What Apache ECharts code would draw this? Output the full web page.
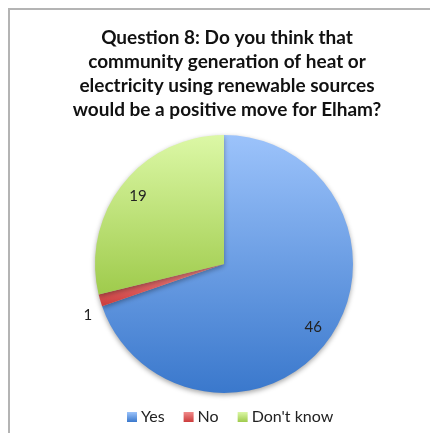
<!DOCTYPE html>
<html>
<head>
<meta charset="utf-8">
<script src="https://cdn.jsdelivr.net/npm/echarts@6/dist/echarts.min.js"></script>
<style>
html,body{margin:0;padding:0;background:#fff;}
#frame{position:absolute;left:8px;top:8px;width:422px;height:425px;border-top:2px solid #b4b4b4;border-left:2px solid #b4b4b4;box-sizing:border-box;}
#chart{position:absolute;left:0;top:0;width:430px;height:433px;}
</style>
</head>
<body>
<div id="frame"></div>
<div id="chart"></div>
<script>
const titleLines = [
  'Question 8: Do you think that',
  'community generation of heat or',
  'electricity using renewable sources',
  'would be a positive move for Elham?'
];
const categories = ['Yes', 'No', "Don't know"];
const values = [46, 1, 19];
const labelPlaces = ['inside', 'outside', 'inside'];

const grad = (top, bottom) => new echarts.graphic.LinearGradient(0, 0, 0, 1, [
  {offset: 0, color: top}, {offset: 1, color: bottom}
]);
const fills = [grad('#9cc3fb', '#3a78cc'), grad('#f08a8a', '#cc3c3c'), grad('#dcf8a6', '#9fcb4c')];
const legendColors = ['#4a86d8', '#d94c4c', '#a8d45a'];

const chart = echarts.init(document.getElementById('chart'), null, {renderer: 'canvas'});
const center = [224, 264];
const R = 129;

chart.setOption({
  animation: false,
  color: legendColors,
  title: {
    text: titleLines.join('\n'),
    left: 222, top: 21, textAlign: 'center',
    textStyle: {fontFamily: 'Lato', fontWeight: 'bold', fontSize: 19, lineHeight: 24, color: '#111'}
  },
  legend: {
    bottom: 3, left: 122,
    icon: 'rect', itemWidth: 10, itemHeight: 10, itemGap: 19,
    textStyle: {fontFamily: 'Lato', fontSize: 16, color: '#222', padding: [0, 0, 0, -1]},
    data: categories
  },
  series: [
    {
      type: 'pie', silent: true,
      center: center, radius: [0, R],
      startAngle: 90, clockwise: true,
      label: {show: false}, labelLine: {show: false},
      itemStyle: {shadowBlur: 5, shadowOffsetY: 2, shadowColor: 'rgba(0,0,0,0.35)'},
      data: categories.map((c, i) => ({name: c, value: values[i], itemStyle: {color: fills[i]}}))
    },
    {
      type: 'pie', silent: true,
      center: center, radius: [84, R],
      startAngle: 90, clockwise: true,
      itemStyle: {color: 'rgba(0,0,0,0)'},
      labelLine: {show: false, length: 21, length2: 0},
      label: {fontFamily: 'Lato', fontSize: 15, color: '#222', formatter: '{c}'},
      labelLayout: (p) => (labelPlaces[p.dataIndex] === 'outside' ? {dy: 9} : {}),
      data: categories.map((c, i) => ({
        name: c, value: values[i],
        label: {position: labelPlaces[i], distanceToLabelLine: -12}
      }))
    }
  ]
});
</script>
</body>
</html>
